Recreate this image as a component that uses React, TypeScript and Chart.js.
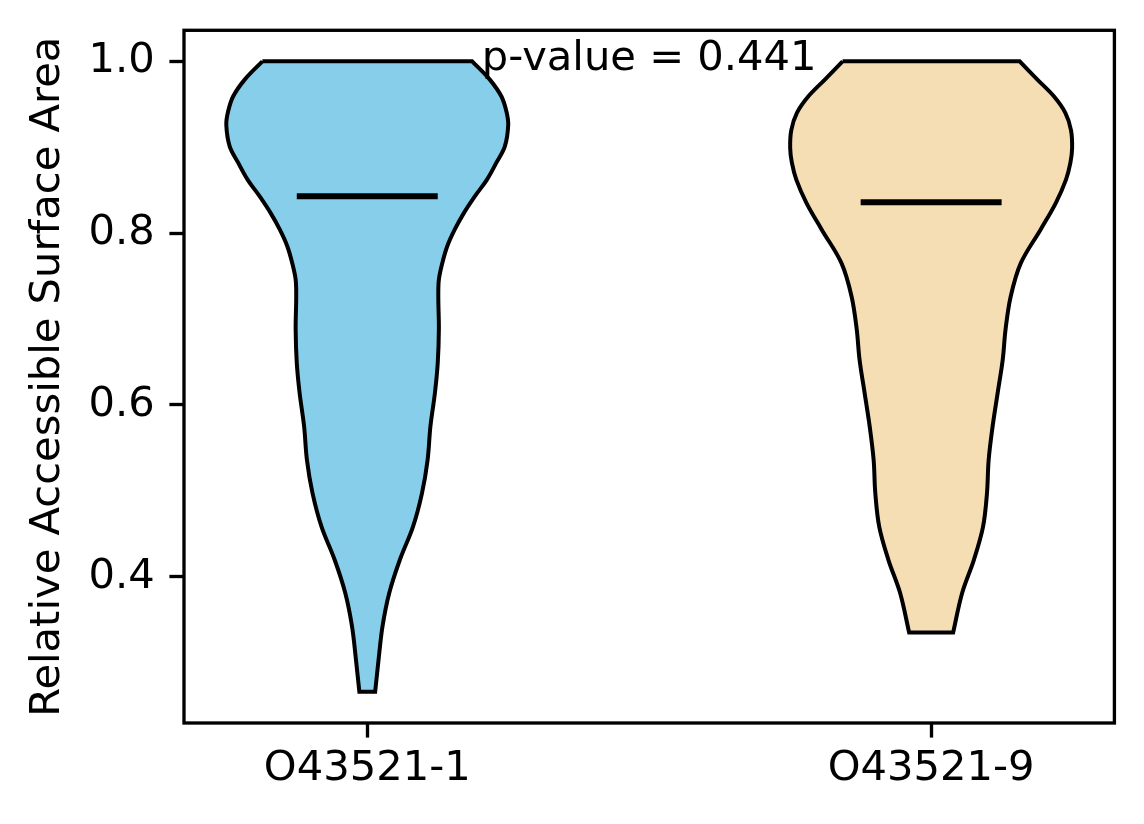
import React, { useEffect, useRef } from "react";
import { Chart, registerables } from "chart.js";

Chart.register(...registerables);

// ---- data ----
const categories = ["O43521-1", "O43521-9"];
const positions = [1, 2];
const yTicks = [0.4, 0.6, 0.8, 1.0];

// violin 1 (O43521-1): values (top -> bottom) and half-widths in x-axis units
const violin1Values = [1.0, 0.979, 0.959, 0.941, 0.926, 0.901, 0.882, 0.862, 0.843, 0.823, 0.804, 0.785, 0.765, 0.746, 0.726, 0.688, 0.649, 0.614, 0.575, 0.536, 0.497, 0.458, 0.42, 0.381, 0.342, 0.303, 0.266];
const violin1HalfWidths = [0.186, 0.217, 0.238, 0.247, 0.25, 0.244, 0.229, 0.212, 0.191, 0.171, 0.155, 0.142, 0.133, 0.127, 0.126, 0.127, 0.125, 0.12, 0.112, 0.107, 0.097, 0.081, 0.058, 0.039, 0.027, 0.02, 0.014];

// violin 2 (O43521-9)
const violin2Values = [1.0, 0.979, 0.959, 0.94, 0.92, 0.899, 0.882, 0.862, 0.835, 0.804, 0.765, 0.726, 0.688, 0.653, 0.614, 0.575, 0.536, 0.497, 0.458, 0.42, 0.381, 0.335];
const violin2HalfWidths = [0.157, 0.188, 0.218, 0.238, 0.248, 0.25, 0.247, 0.239, 0.221, 0.194, 0.159, 0.141, 0.132, 0.127, 0.118, 0.109, 0.102, 0.099, 0.092, 0.076, 0.055, 0.039];

const medians = [0.843, 0.836];
const medianHalfLength = 0.125;

const violinColors = ["#87CEEB", "#F5DEB3"];

const pValueText = "p-value = 0.441";
const pValueX = 1.5;
const pValueY = 0.99;

const yAxisTitle = "Relative Accessible Surface Area";

const X_MIN = 0.675;
const X_MAX = 2.325;
const Y_MIN = 0.2297;
const Y_MAX = 1.0361;

// ---- helpers ----
type Pt = { x: number; y: number };

function outline(pos: number, values: number[], halfWidths: number[]): Pt[] {
  const left: Pt[] = values.map((v, i) => ({ x: pos - halfWidths[i], y: v }));
  const right: Pt[] = values.map((v, i) => ({ x: pos + halfWidths[i], y: v })).reverse();
  const n = left.length;
  // duplicate corner points so the flat ends stay straight with tension
  const pts: Pt[] = [
    ...left,
    { ...left[n - 1] },
    right[0],
    { ...right[0] },
    ...right.slice(1),
    { ...right[n - 1] },
    { ...left[0] },
  ];
  return pts;
}

const FONT = "DejaVu Sans";
const FS = 41.67;

const violinFillPlugin = {
  id: "violinFill",
  beforeDatasetDraw(chart: any, args: any) {
    const ds = chart.data.datasets[args.index];
    if (!ds.violinFill) return;
    const line = args.meta.dataset;
    if (!line) return;
    const ctx = chart.ctx;
    line.updateControlPoints(chart.chartArea, "x");
    ctx.save();
    ctx.beginPath();
    line.path(ctx);
    ctx.closePath();
    ctx.fillStyle = ds.violinFill;
    ctx.fill();
    ctx.restore();
  },
};

const framePlugin = {
  id: "frame",
  afterDatasetsDraw(chart: any) {
    const { ctx, chartArea } = chart;
    ctx.save();
    ctx.strokeStyle = "#000";
    ctx.lineWidth = 3.33;
    ctx.strokeRect(chartArea.left, chartArea.top, chartArea.right - chartArea.left, chartArea.bottom - chartArea.top);
    ctx.restore();
  },
};

const annotationPlugin = {
  id: "pvalue",
  afterDraw(chart: any) {
    const { ctx, scales } = chart;
    ctx.save();
    ctx.font = `${FS}px "${FONT}"`;
    ctx.fillStyle = "#000";
    ctx.textAlign = "center";
    ctx.textBaseline = "alphabetic";
    ctx.fillText(pValueText, scales.x.getPixelForValue(pValueX), scales.y.getPixelForValue(pValueY));
    ctx.restore();
  },
};

export default function App() {
  const ref = useRef<HTMLCanvasElement>(null);

  useEffect(() => {
    if (!ref.current) return;
    const violinSets = [
      { pos: positions[0], values: violin1Values, widths: violin1HalfWidths, color: violinColors[0] },
      { pos: positions[1], values: violin2Values, widths: violin2HalfWidths, color: violinColors[1] },
    ];
    const datasets: any[] = [];
    medians.forEach((m, i) => {
      datasets.push({
        type: "line",
        label: `median ${categories[i]}`,
        data: [
          { x: positions[i] - medianHalfLength, y: m },
          { x: positions[i] + medianHalfLength, y: m },
        ],
        borderColor: "#000",
        borderWidth: 6,
        pointRadius: 0,
        fill: false,
        tension: 0,
        order: 0,
      });
    });
    violinSets.forEach((v, i) => {
      datasets.push({
        type: "line",
        label: categories[i],
        data: outline(v.pos, v.values, v.widths),
        borderColor: "#000",
        borderWidth: 4,
        pointRadius: 0,
        fill: false,
        tension: 0.35,
        violinFill: v.color,
        order: 1,
      });
    });

    const chart = new Chart(ref.current, {
      type: "line",
      data: { datasets },
      options: {
        animation: false,
        responsive: false,
        devicePixelRatio: 1,
        events: [],
        layout: { padding: { left: 0, top: 30.3, right: 29.6, bottom: 0 } },
        plugins: {
          legend: { display: false },
          tooltip: { enabled: false },
        },
        scales: {
          x: {
            type: "linear",
            min: X_MIN,
            max: X_MAX,
            afterBuildTicks: (scale: any) => {
              scale.ticks = positions.map((p) => ({ value: p }));
            },
            afterFit: (scale: any) => {
              scale.height = 101;
              scale.paddingLeft = 0;
              scale.paddingRight = 0;
              scale.paddingTop = 0;
              scale.paddingBottom = 0;
            },
            grid: {
              display: true,
              drawOnChartArea: false,
              drawTicks: true,
              tickLength: 14.6,
              tickWidth: 3.33,
              tickColor: "#000",
            },
            border: { display: false },
            ticks: {
              autoSkip: false,
              maxRotation: 0,
              padding: 7,
              color: "#000",
              font: { family: FONT, size: FS },
              callback: (value: any) => {
                const idx = positions.indexOf(Number(value));
                return idx >= 0 ? categories[idx] : "";
              },
            },
          },
          y: {
            type: "linear",
            min: Y_MIN,
            max: Y_MAX,
            afterBuildTicks: (scale: any) => {
              scale.ticks = yTicks.map((v) => ({ value: v }));
            },
            afterFit: (scale: any) => {
              scale.width = 184;
              scale.paddingLeft = 0;
              scale.paddingRight = 0;
              scale.paddingTop = 0;
              scale.paddingBottom = 0;
            },
            grid: {
              display: true,
              drawOnChartArea: false,
              drawTicks: true,
              tickLength: 14.6,
              tickWidth: 3.33,
              tickColor: "#000",
            },
            border: { display: false },
            ticks: {
              padding: 14.6,
              color: "#000",
              font: { family: FONT, size: FS },
              callback: (value: any) => Number(value).toFixed(1),
            },
            title: {
              display: true,
              text: yAxisTitle,
              color: "#000",
              font: { family: FONT, size: FS },
              padding: { top: 23, bottom: 0 },
            },
          },
        },
      },
      plugins: [violinFillPlugin, framePlugin, annotationPlugin],
    } as any);
    return () => chart.destroy();
  }, []);

  return (
    <div style={{ position: "fixed", left: 0, top: 0, width: 1144, height: 824, background: "#fff" }}>
      <canvas ref={ref} width={1144} height={824} style={{ width: 1144, height: 824, display: "block" }} />
    </div>
  );
}
